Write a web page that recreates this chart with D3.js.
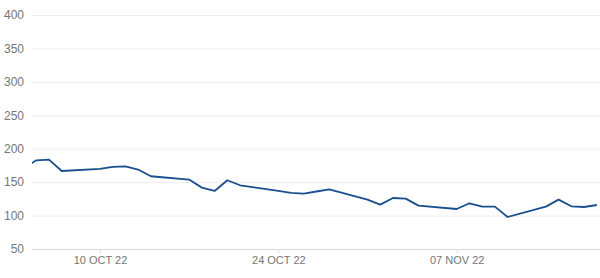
<!DOCTYPE html>
<html>
<head>
<meta charset="utf-8">
<script src="https://cdn.jsdelivr.net/npm/d3@7"></script>
<style>
    body { margin: 0; background: #fff; }
    .axis text { font-family: "Liberation Sans", Arial, sans-serif; fill: #757575; }
</style>
</head>
<body>
<div id="chart"></div>
<script>

// weekday series, the first point lies just off the left edge
const dates = ['2022-10-04', '2022-10-05', '2022-10-06', '2022-10-07',
    '2022-10-10', '2022-10-11', '2022-10-12', '2022-10-13', '2022-10-14',
    '2022-10-17', '2022-10-18', '2022-10-19', '2022-10-20', '2022-10-21',
    '2022-10-24', '2022-10-25', '2022-10-26', '2022-10-27', '2022-10-28',
    '2022-10-31', '2022-11-01', '2022-11-02', '2022-11-03', '2022-11-04',
    '2022-11-07', '2022-11-08', '2022-11-09', '2022-11-10', '2022-11-11',
    '2022-11-14', '2022-11-15', '2022-11-16', '2022-11-17', '2022-11-18']
const values = [170.5, 182.7, 183.7, 166.7,
    169.7, 172.7, 173.7, 168.8, 158.8,
    153.8, 141.8, 136.8, 152.8, 145.3,
    137.0, 133.8, 132.9, 136.0, 139.3,
    123.9, 116.4, 126.3, 125.4, 114.9,
    109.8, 118.4, 113.4, 113.4, 97.9,
    113.4, 123.9, 113.9, 112.8, 115.8]

const xDomain = ['2022-10-04T16:00', '2022-11-18T06:00']
const xTicks = ['2022-10-10', '2022-10-24', '2022-11-07']
const yTicks = [50, 100, 150, 200, 250, 300, 350, 400]

const width = 600, height = 278
const margin = {top: 15, right: 0, bottom: 29, left: 32}

const parseDay = d3.utcParse('%Y-%m-%d')
const parseTime = d3.utcParse('%Y-%m-%dT%H:%M')

const data = dates.map((d, i) => ({date: parseDay(d), value: values[i]}))

const svg = d3.select('#chart').append('svg')
    .attr('width', width)
    .attr('height', height)

const x = d3.scaleUtc()
    .domain(xDomain.map(parseTime))
    .range([margin.left, width - margin.right])

const y = d3.scaleLinear()
    .domain([50, 400])
    .range([height - margin.bottom, margin.top])

// clip so the first segment is cut at the plot edge
svg.append('defs').append('clipPath')
    .attr('id', 'plotClip')
    .append('rect')
    .attr('x', margin.left)
    .attr('y', 0)
    .attr('width', width - margin.left - margin.right)
    .attr('height', height)

// y axis with grid lines
const yAxis = svg.append('g')
    .attr('class', 'axis y-axis')
    .attr('transform', `translate(${margin.left},0)`)
    .call(d3.axisLeft(y)
        .tickValues(yTicks)
        .tickSize(-(width - margin.left - margin.right))
        .tickPadding(8))

yAxis.select('.domain').remove()
yAxis.selectAll('.tick line')
    .attr('stroke', d => d === 50 ? '#d9dbe3' : '#eeeeee')
    .attr('stroke-width', 1)
yAxis.selectAll('.tick text')
    .style('font-size', '12px')

// x axis
const xAxis = svg.append('g')
    .attr('class', 'axis x-axis')
    .attr('transform', `translate(0,${height - margin.bottom})`)
    .call(d3.axisBottom(x)
        .tickValues(xTicks.map(parseDay))
        .tickSize(4)
        .tickPadding(3)
        .tickFormat(d => d3.utcFormat('%d %b %y')(d).toUpperCase()))

xAxis.select('.domain').remove()
xAxis.selectAll('.tick line')
    .attr('stroke', '#d9dbe3')
xAxis.selectAll('.tick text')
    .style('font-size', '11px')

// the series line
const line = d3.line()
    .x(d => x(d.date))
    .y(d => y(d.value))

svg.append('path')
    .datum(data)
    .attr('clip-path', 'url(#plotClip)')
    .attr('fill', 'none')
    .attr('stroke', '#1a4f8e')
    .attr('stroke-width', 1.8)
    .attr('stroke-linejoin', 'round')
    .attr('d', line)

</script>
</body>
</html>
